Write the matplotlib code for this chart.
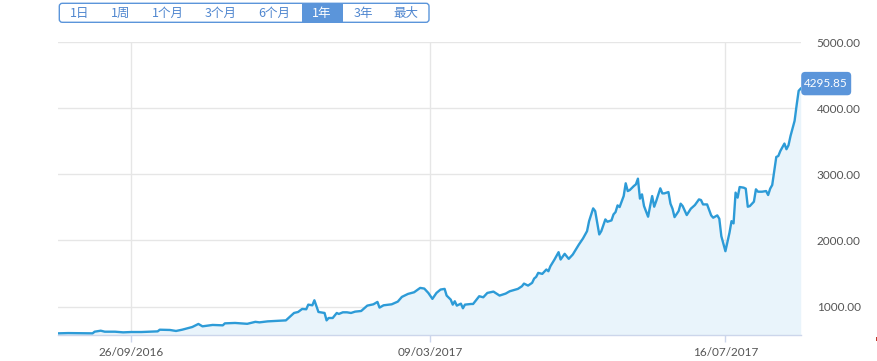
import matplotlib
matplotlib.use("Agg")
import matplotlib.pyplot as plt
from matplotlib.patches import FancyBboxPatch, Rectangle

# ordinal day index (0 = start of the 1-year window) and closing price
days = [
    0, 5, 17, 18, 21, 23, 28, 32, 36, 41, 49, 50,
    55, 58, 61, 66, 69, 71, 76, 81, 82, 87, 93, 97,
    99, 103, 110, 112, 116, 118, 120, 122, 123, 125, 126, 128,
    131, 132, 133, 135, 137, 138, 140, 142, 144, 146, 149, 152,
    155, 157, 158, 160, 164, 167, 169, 172, 175, 178, 180, 182,
    184, 186, 188, 190, 191, 193, 194, 195, 196, 198, 199, 200,
    203, 204, 207, 209, 211, 214, 217, 220, 222, 226, 228, 229,
    231, 233, 234, 235, 236, 238, 240, 241, 242, 244, 246, 247,
    249, 251, 253, 256, 258, 260, 261, 263, 264, 265, 266, 267,
    269, 270, 272, 273, 274, 275, 276, 278, 279, 280, 281, 283,
    284, 285, 286, 287, 288, 290, 291, 292, 293, 294, 296, 297,
    298, 300, 301, 302, 303, 305, 306, 307, 309, 311, 313, 315,
    316, 317, 319, 321, 322, 324, 325, 326, 328, 330, 331, 332,
    333, 334, 335, 337, 338, 339, 340, 342, 343, 344, 346, 348,
    349, 350, 351, 353, 354, 355, 357, 358, 359, 360, 362, 363,
    364, 365,
]
prices = [
    596, 600, 596, 621, 636, 621, 621, 611, 616, 616, 626, 651,
    647, 632, 651, 692, 738, 702, 723, 717, 747, 753, 740, 770,
    762, 777, 788, 792, 904, 919, 965, 960, 1030, 1020, 1096, 919,
    904, 792, 828, 828, 904, 889, 914, 914, 904, 924, 934, 1015,
    1035, 1071, 985, 1020, 1035, 1076, 1147, 1192, 1217, 1283, 1273, 1207,
    1117, 1207, 1258, 1268, 1167, 1106, 1030, 1081, 1015, 1045, 975, 1030,
    1040, 1040, 1157, 1141, 1207, 1227, 1167, 1197, 1232, 1268, 1308, 1348,
    1318, 1359, 1424, 1450, 1510, 1495, 1561, 1535, 1611, 1712, 1823, 1712,
    1798, 1722, 1788, 1939, 2030, 2141, 2292, 2485, 2444, 2268, 2091, 2141,
    2318, 2283, 2303, 2394, 2429, 2530, 2505, 2671, 2864, 2747, 2762, 2823,
    2848, 2934, 2632, 2697, 2520, 2359, 2520, 2671, 2510, 2596, 2788, 2712,
    2712, 2732, 2556, 2480, 2353, 2444, 2556, 2520, 2384, 2480, 2535, 2621,
    2611, 2545, 2545, 2379, 2344, 2379, 2328, 2065, 1838, 2117, 2292, 2258,
    2723, 2647, 2808, 2798, 2783, 2510, 2520, 2586, 2773, 2737, 2737, 2747,
    2687, 2783, 2838, 3262, 3277, 3353, 3465, 3379, 3439, 3580, 3808, 4045,
    4262, 4295.85,
]

tick_days = [36, 183, 328]
tick_labels = ["26/09/2016", "09/03/2017", "16/07/2017"]
y_ticks = [1000, 2000, 3000, 4000, 5000]

range_buttons = ["1日", "1周", "1个月", "3个月", "6个月", "1年", "3年", "最大"]
button_centers = [80, 121, 168, 221, 274, 322, 363, 406]
selected = "1年"

W, H = 877, 361
y_low, y_high = 571, 5000
line_color = "#2d9bd7"
ui_blue = "#5b95da"

fig = plt.figure(figsize=(W / 100, H / 100), dpi=100)
ax = fig.add_axes([58 / W, (H - 335) / H, (800.7 - 58) / W, (335 - 42) / H])

ax.fill_between(days, prices, y_low, color="#e9f4fb", lw=0, zorder=1)
ax.plot(days, prices, color=line_color, lw=1.7, solid_joinstyle="round", zorder=3)

ax.set_xlim(0, 365)
ax.set_ylim(y_low, y_high)
ax.set_xticks(tick_days, tick_labels, fontfamily="Lato")
ax.set_yticks(y_ticks, [f"{v:.2f}" for v in y_ticks], fontfamily="Lato")
ax.yaxis.tick_right()
ax.tick_params(axis="y", length=0, pad=11.5, labelsize=8.5, labelcolor="#555555")
ax.tick_params(axis="x", length=5, width=1, color="#ccd6eb", pad=4,
               labelsize=8.5, labelcolor="#555555")
ax.grid(True, color="#e6e6e6", lw=1)
ax.set_axisbelow(True)
for side in ["top", "left", "right"]:
    ax.spines[side].set_visible(False)
ax.spines["bottom"].set_color("#ccd6eb")
ax.spines["bottom"].set_linewidth(1)

# overlay in pixel units for the UI bits
ui = fig.add_axes([0, 0, 1, 1], zorder=4)
ui.set_xlim(0, W)
ui.set_ylim(H, 0)
ui.axis("off")

# last price flag, anchored at the last data point
px, py = ax.transData.transform((days[-1], prices[-1]))
py = H - py
ui.add_patch(FancyBboxPatch((px + 0.5, py - 16.7), 50, 23.4,
                            boxstyle="round,pad=0,rounding_size=4", fc=ui_blue, ec="none"))
ui.text(px + 25.5, py - 5, f"{prices[-1]:.2f}", ha="center", va="center",
        color="white", fontsize=8.5, fontfamily="Lato")

# range selector buttons
ui.add_patch(Rectangle((302.3, 3.3), 40.4, 19, fc=ui_blue, ec="none"))
ui.add_patch(FancyBboxPatch((59.3, 3.3), 369.7, 19, boxstyle="round,pad=0,rounding_size=3",
                            fc="none", ec=ui_blue, lw=1))
for name, cx in zip(range_buttons, button_centers):
    ui.text(cx, 13, name, ha="center", va="center", fontsize=9,
            family=["Noto Sans CJK SC", "DejaVu Sans"],
            color="white" if name == selected else "#4f86cf")

# small red mark at the bottom-right corner
ui.add_patch(Rectangle((875.5, 336.5), 1.5, 4, fc="#c0392b", ec="none"))

fig.savefig("out.png", dpi=100)
